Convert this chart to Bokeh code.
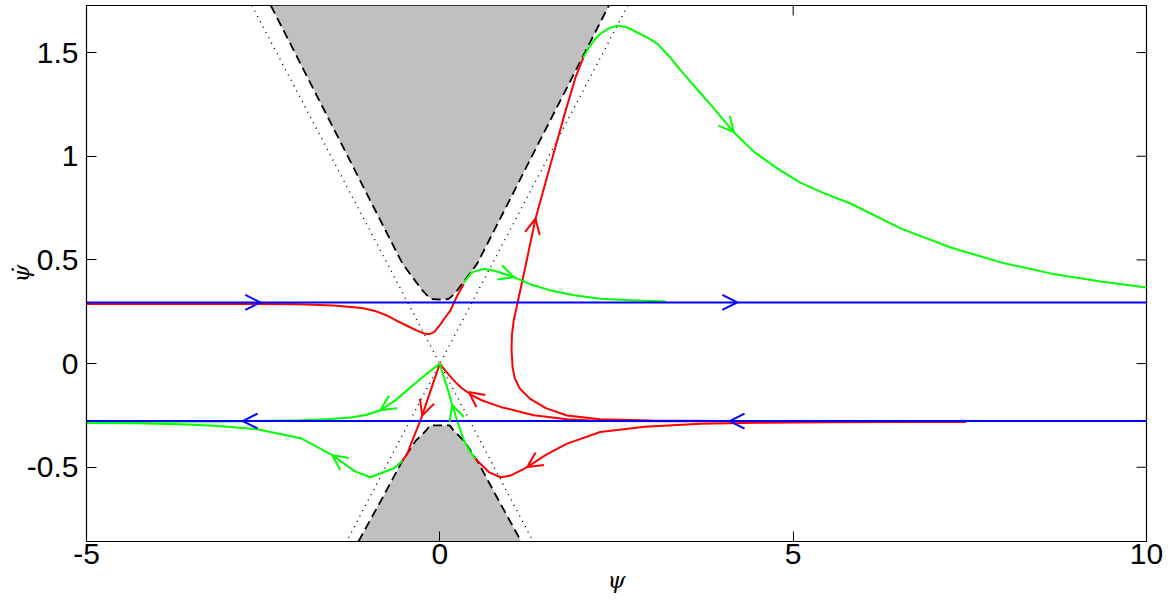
import numpy as np
from bokeh.plotting import figure
from bokeh.models import Range1d, FixedTicker, Arrow, OpenHead
from bokeh.embed import file_html
from bokeh.resources import INLINE

# ---------------- axes ----------------
X_LIM = [-5.0, 10.0]
Y_LIM = [-0.858, 1.727]
X_TICKS = [-5, 0, 5, 10]
Y_TICKS = [-0.5, 0, 0.5, 1, 1.5]
X_TICK_LABELS = ["-5", "0", "5", "10"]
Y_TICK_LABELS = ["-0.5", "0", "0.5", "1", "1.5"]
X_LABEL = "ψ"
Y_LABEL = "ψ\u0307"

# ---------------- forbidden regions (right half, mirrored) ----------------
upper_psi = [0.0, 0.12, 0.17, 0.246, 0.35, 0.529, 0.9, 1.3, 1.7, 2.1, 2.392]
upper_psid = [0.309, 0.311, 0.325, 0.353, 0.40, 0.482, 0.73, 0.998, 1.265, 1.532, 1.727]
lower_psi = [0.0, 0.14, 0.2, 0.34, 0.529, 0.8, 1.152]
lower_psid = [-0.298, -0.298, -0.325, -0.372, -0.468, -0.64, -0.858]

# dotted lines
dot_a_psi = [-2.66, 1.32]
dot_a_psid = [1.727, -0.858]
dot_b_psi = [2.66, -1.32]
dot_b_psid = [1.727, -0.858]

# ---------------- blue lines ----------------
blue_psi = [-5.0, 10.0]
blue_upper = 0.295
blue_lower = -0.277
blue_upper_arrows = [-2.54, 4.21]
blue_lower_arrows = [-2.79, 4.10]

# ---------------- red trajectories (ordered along the flow) ----------------
redA_psi = [-5.0, -3.0, -2.0, -1.5, -1.1, -0.9, -0.75, -0.6, -0.45, -0.33, -0.22, -0.15, -0.08, 0.0, 0.07, 0.151, 0.25, 0.34]
redA_psid = [0.288, 0.288, 0.286, 0.28, 0.268, 0.252, 0.232, 0.205, 0.18, 0.16, 0.145, 0.142, 0.152, 0.185, 0.22, 0.257, 0.33, 0.385]

redB_psi = [7.45, 5.5, 4.0, 3.0, 2.27, 1.8, 1.5, 1.28, 1.13, 1.06, 1.03, 1.015, 1.02, 1.046, 1.2, 1.354, 1.57, 1.78, 1.92, 2.03]
redB_psid = [-0.278, -0.277, -0.277, -0.275, -0.268, -0.25, -0.215, -0.17, -0.12, -0.07, -0.02, 0.064, 0.14, 0.209, 0.45, 0.699, 0.965, 1.22, 1.38, 1.476]

redC_psi = [7.45, 5.0, 3.5, 2.27, 1.8, 1.33, 0.86, 0.6, 0.43, 0.3, 0.18, 0.08, 0.0]
redC_psid = [-0.280, -0.279, -0.278, -0.277, -0.268, -0.249, -0.209, -0.178, -0.148, -0.115, -0.075, -0.035, 0.0]

redD_psi = [7.45, 5.5, 4.5, 3.69, 2.9, 2.27, 1.8, 1.5, 1.237, 1.0, 0.86, 0.7, 0.57, 0.48]
redD_psid = [-0.281, -0.283, -0.285, -0.29, -0.305, -0.33, -0.386, -0.44, -0.499, -0.54, -0.548, -0.525, -0.482, -0.45]

redE_psi = [0.0, -0.08, -0.17, -0.273, -0.37, -0.46, -0.53]
redE_psid = [0.0, -0.08, -0.17, -0.273, -0.355, -0.434, -0.47]

# ---------------- green trajectories (ordered along the flow) ----------------
greenS_psi = [0.34, 0.45, 0.62, 0.8, 1.047, 1.3, 1.567, 1.9, 2.27, 2.7, 3.2]
greenS_psid = [0.39, 0.44, 0.457, 0.445, 0.417, 0.38, 0.353, 0.33, 0.313, 0.305, 0.30]

greenL_psi = [2.03, 2.1, 2.18, 2.27, 2.38, 2.51, 2.65, 2.79, 2.94, 3.08, 3.25, 3.45, 3.78, 4.16, 4.45, 4.78, 5.10, 5.45, 5.81, 6.52, 7.23, 7.94, 8.64, 9.35, 10.0]
greenL_psid = [1.476, 1.52, 1.558, 1.59, 1.615, 1.63, 1.622, 1.598, 1.572, 1.542, 1.48, 1.397, 1.269, 1.116, 1.02, 0.94, 0.873, 0.82, 0.772, 0.652, 0.56, 0.488, 0.435, 0.396, 0.367]

greenG_psi = [0.0, -0.18, -0.41, -0.62, -0.84, -1.05, -1.26, -1.6, -1.97, -3.0, -4.0, -5.0]
greenG_psid = [0.0, -0.048, -0.113, -0.175, -0.225, -0.248, -0.26, -0.268, -0.273, -0.279, -0.281, -0.283]

greenH_psi = [0.505, 0.42, 0.34, 0.26, 0.175, 0.1, 0.057, 0.0]
greenH_psid = [-0.458, -0.42, -0.369, -0.29, -0.2, -0.11, -0.065, 0.0]

greenF_psi = [-0.53, -0.65, -0.79, -0.98, -1.2, -1.52, -1.97, -2.6, -3.2, -3.67, -4.3, -5.0]
greenF_psid = [-0.47, -0.505, -0.523, -0.548, -0.52, -0.442, -0.36, -0.315, -0.30, -0.293, -0.288, -0.286]

# arrow tips (psi, psid) on each trajectory
arrows_red = [("B", 1.354, 0.699), ("C", 0.41, -0.137), ("D", 1.237, -0.499), ("E", -0.249, -0.25)]
arrows_green = [("S", 1.047, 0.417), ("L", 4.16, 1.116), ("G", -0.84, -0.225), ("H", 0.175, -0.2), ("F", -1.52, -0.442)]

RED = "#ff0000"
GREEN = "#00ff00"
BLUE = "#0000ff"
GRAY = "#c0c0c0"

W, H = 1174, 605
LEFT, RIGHT, TOP, BOTTOM = 86, 28, 5, 64
FRAME_W = W - LEFT - RIGHT
FRAME_H = H - TOP - BOTTOM
TICK_LEN = 10

p = figure(width=W, height=H, x_range=Range1d(*X_LIM), y_range=Range1d(*Y_LIM),
           output_backend="svg", toolbar_location=None,
           min_border_left=LEFT, min_border_right=RIGHT,
           min_border_top=TOP, min_border_bottom=BOTTOM)
p.xgrid.visible = False
p.ygrid.visible = False
p.outline_line_color = "black"
p.outline_line_width = 1.2
p.background_fill_color = "white"
p.border_fill_color = "white"

for ax, ticks, labels in ((p.xaxis[0], X_TICKS, X_TICK_LABELS), (p.yaxis[0], Y_TICKS, Y_TICK_LABELS)):
    ax.ticker = FixedTicker(ticks=ticks)
    ax.major_label_overrides = {t: s for t, s in zip(ticks, labels)}
    ax.major_tick_in = TICK_LEN
    ax.major_tick_out = 0
    ax.minor_tick_in = 0
    ax.minor_tick_out = 0
    ax.major_tick_line_color = "black"
    ax.axis_line_color = "black"
    ax.major_label_text_font = "Liberation Sans"
    ax.major_label_text_font_size = "30px"
    ax.major_label_text_color = "black"
    ax.axis_label_text_font = "DejaVu Serif"
    ax.axis_label_text_font_style = "italic"
    ax.axis_label_text_font_size = "23px"
    ax.axis_label_text_color = "black"
p.xaxis[0].major_label_standoff = 2
p.yaxis[0].major_label_standoff = 8
p.yaxis[0].major_label_orientation = "horizontal"
p.xaxis[0].axis_label = X_LABEL
p.yaxis[0].axis_label = Y_LABEL
p.xaxis[0].axis_label_standoff = 0
p.yaxis[0].axis_label_standoff = -10

# inward ticks on the top and right edges
PXX = FRAME_W / (X_LIM[1] - X_LIM[0])
PXY = FRAME_H / (Y_LIM[1] - Y_LIM[0])
p.segment(x0=X_TICKS, y0=[Y_LIM[1]] * len(X_TICKS), x1=X_TICKS,
          y1=[Y_LIM[1] - TICK_LEN / PXY] * len(X_TICKS), line_color="black", line_width=1)
p.segment(x0=[X_LIM[1]] * len(Y_TICKS), y0=Y_TICKS, x1=[X_LIM[1] - TICK_LEN / PXX] * len(Y_TICKS),
          y1=Y_TICKS, line_color="black", line_width=1)

# ---------- forbidden regions ----------
up_full_x = [-v for v in upper_psi[::-1]] + upper_psi[1:]
up_full_y = upper_psid[::-1] + upper_psid[1:]
lo_full_x = [-v for v in lower_psi[::-1]] + lower_psi[1:]
lo_full_y = lower_psid[::-1] + lower_psid[1:]

p.patch(up_full_x + [up_full_x[-1], up_full_x[0]], up_full_y + [Y_LIM[1], Y_LIM[1]],
        fill_color=GRAY, line_color=None)
p.patch(lo_full_x + [lo_full_x[-1], lo_full_x[0]], lo_full_y + [Y_LIM[0], Y_LIM[0]],
        fill_color=GRAY, line_color=None)
p.line(up_full_x, up_full_y, line_color="black", line_width=1.8, line_dash="9 5")
p.line(lo_full_x, lo_full_y, line_color="black", line_width=1.8, line_dash="9 5")

p.line(dot_a_psi, dot_a_psid, line_color="black", line_width=1.4, line_dash="1 5")
p.line(dot_b_psi, dot_b_psid, line_color="black", line_width=1.4, line_dash="1 5")

# ---------- trajectories ----------
red_curves = {"A": (redA_psi, redA_psid), "B": (redB_psi, redB_psid), "C": (redC_psi, redC_psid),
              "D": (redD_psi, redD_psid), "E": (redE_psi, redE_psid)}
green_curves = {"S": (greenS_psi, greenS_psid), "L": (greenL_psi, greenL_psid), "G": (greenG_psi, greenG_psid),
                "H": (greenH_psi, greenH_psid), "F": (greenF_psi, greenF_psid)}

for xs, ys in red_curves.values():
    p.line(xs, ys, line_color=RED, line_width=2)
for xs, ys in green_curves.values():
    p.line(xs, ys, line_color=GREEN, line_width=2)

p.line(blue_psi, [blue_upper, blue_upper], line_color=BLUE, line_width=2)
p.line(blue_psi, [blue_lower, blue_lower], line_color=BLUE, line_width=2)


def add_arrow(xs, ys, tx, ty, color):
    px = np.array(xs) * PXX
    py = np.array(ys) * PXY
    tp = np.array([tx * PXX, ty * PXY])
    best, bdir = None, None
    for i in range(len(px) - 1):
        a = np.array([px[i], py[i]]); b = np.array([px[i + 1], py[i + 1]])
        d = b - a
        L2 = float(d @ d)
        if L2 == 0:
            continue
        t = np.clip(((tp - a) @ d) / L2, 0, 1)
        dist = np.hypot(*(a + t * d - tp))
        if best is None or dist < best:
            best, bdir = dist, d / np.sqrt(L2)
    sx = tx - bdir[0] * 3 / PXX
    sy = ty - bdir[1] * 3 / PXY
    p.add_layout(Arrow(end=OpenHead(size=15, line_color=color, line_width=2),
                       x_start=sx, y_start=sy, x_end=tx, y_end=ty,
                       line_color=color, line_width=2))


for key, tx, ty in arrows_red:
    add_arrow(*red_curves[key], tx, ty, RED)
for key, tx, ty in arrows_green:
    add_arrow(*green_curves[key], tx, ty, GREEN)
for tx in blue_upper_arrows:
    add_arrow(blue_psi, [blue_upper, blue_upper], tx, blue_upper, BLUE)
for tx in blue_lower_arrows:
    add_arrow(blue_psi[::-1], [blue_lower, blue_lower], tx, blue_lower, BLUE)

open("out.html", "w").write(file_html(p, INLINE))
